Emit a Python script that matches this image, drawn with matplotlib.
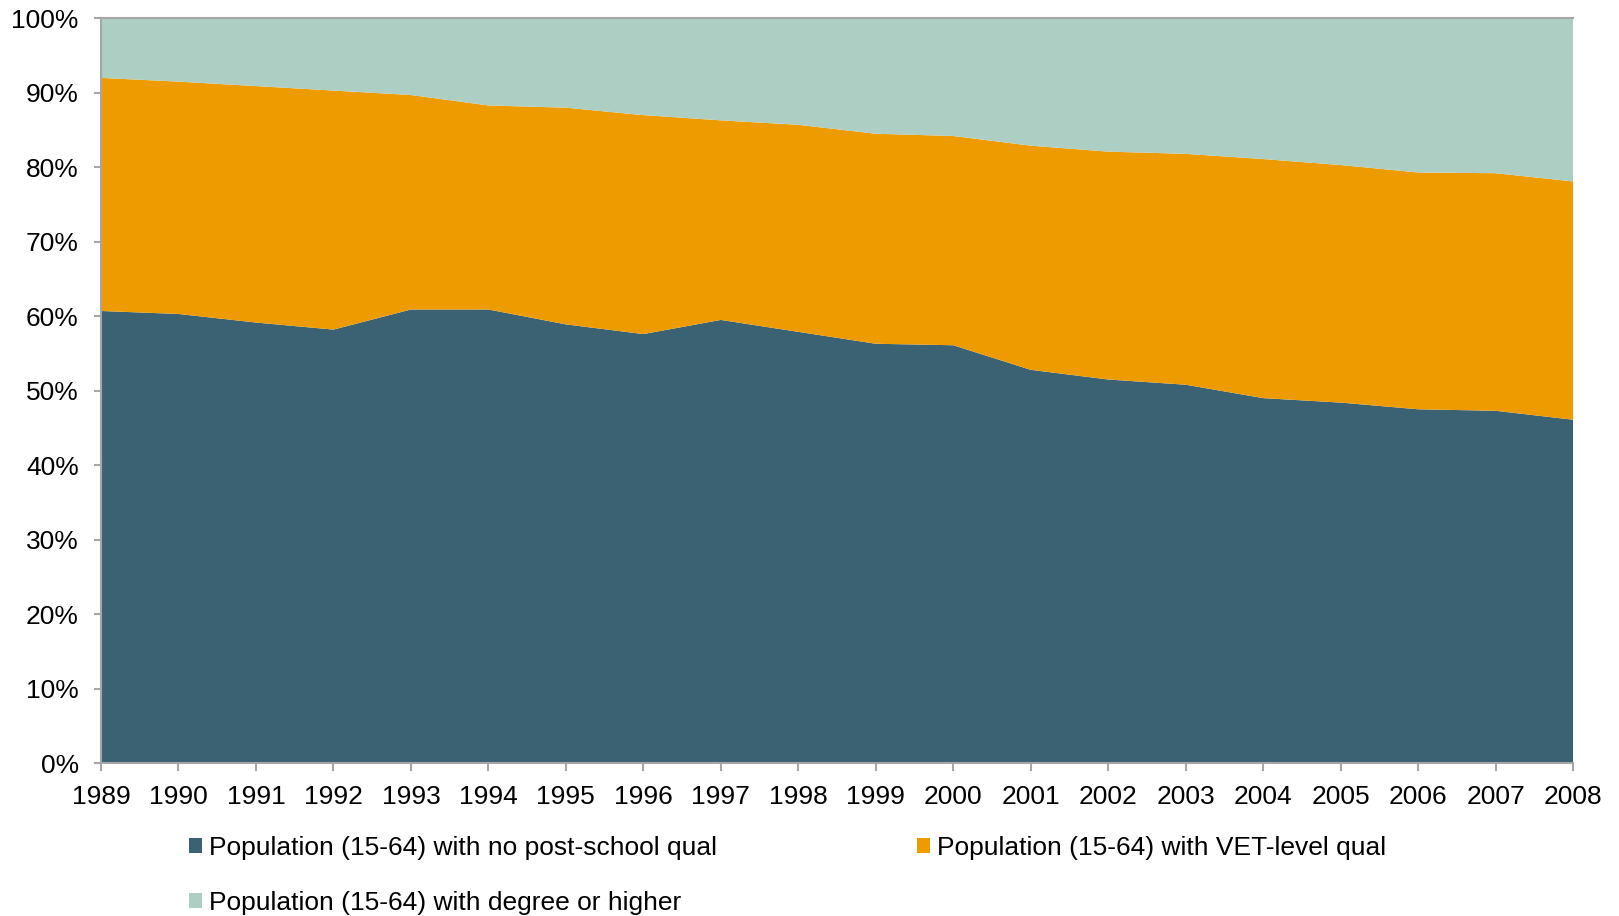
import matplotlib
matplotlib.use("Agg")
import matplotlib.pyplot as plt
from matplotlib.patches import Patch
from matplotlib.ticker import FuncFormatter, MultipleLocator

plt.rcParams['font.family'] = ['Liberation Sans', 'DejaVu Sans']

years = list(range(1989, 2009))
no_post_school = [60.7, 60.3, 59.15, 58.2, 60.9, 60.9, 58.9, 57.6, 59.5, 57.9,
                  56.3, 56.1, 52.8, 51.5, 50.8, 49.0, 48.4, 47.5, 47.3, 46.1]
vet_level = [31.3, 31.2, 31.75, 32.1, 28.8, 27.4, 29.1, 29.4, 26.8, 27.8,
             28.2, 28.1, 30.1, 30.6, 31.0, 32.1, 31.9, 31.8, 31.9, 32.0]
degree_or_higher = [8.0, 8.5, 9.1, 9.7, 10.3, 11.7, 12.0, 13.0, 13.7, 14.3,
                    15.5, 15.8, 17.1, 17.9, 18.2, 18.9, 19.7, 20.7, 20.8, 21.9]
series_labels = [
    "Population (15-64) with no post-school qual",
    "Population (15-64) with VET-level qual",
    "Population (15-64) with degree or higher",
]
colors = ["#3A6272", "#EE9B00", "#ADCEC3"]

fig = plt.figure(figsize=(16.19, 9.16), dpi=100)
ax = fig.add_axes([0.0624, 0.167, 0.9092, 0.813])

ax.stackplot(years, no_post_school, vet_level, degree_or_higher,
             colors=colors, linewidth=0)

ax.set_xlim(years[0], years[-1])
ax.set_ylim(0, 100)
ax.set_xticks(years)
ax.yaxis.set_major_locator(MultipleLocator(10))
ax.yaxis.set_major_formatter(FuncFormatter(lambda v, p: f"{v:.0f}%"))

spine_color = "#A6A6A6"
for side in ("left", "bottom", "top"):
    ax.spines[side].set_color(spine_color)
    ax.spines[side].set_linewidth(1.5)
ax.spines["right"].set_visible(False)

ax.tick_params(axis="x", direction="out", length=6, width=1.5, color=spine_color,
               labelsize=19, pad=10, labelcolor="black")
ax.tick_params(axis="y", direction="out", length=5, width=1.5, color=spine_color,
               labelsize=19, pad=11, labelcolor="black")

handles = [Patch(facecolor=c, edgecolor="none") for c in colors]
# legend fills columns first: reorder so rows read left-to-right
order = [0, 2, 1]
fig.legend([handles[i] for i in order], [series_labels[i] for i in order],
           ncol=2, loc="upper left", bbox_to_anchor=(0.1167, 0.087),
           frameon=False, fontsize=19, handlelength=0.5, handleheight=0.5,
           handletextpad=0.25, columnspacing=7.6, labelspacing=1.15,
           borderaxespad=0, borderpad=0)

fig.savefig("out.png", dpi=100)
